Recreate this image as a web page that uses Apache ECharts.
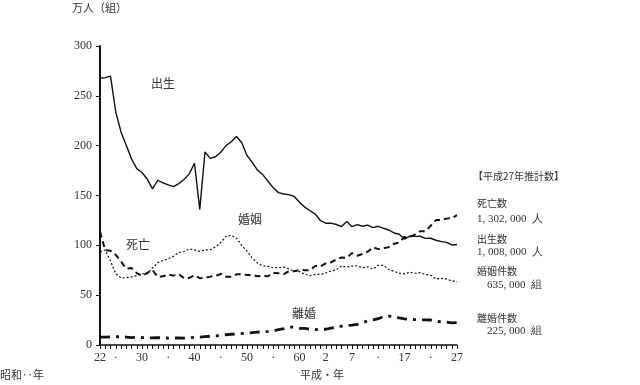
<!DOCTYPE html>
<html><head><meta charset="utf-8">
<script src="https://cdn.jsdelivr.net/npm/echarts@6/dist/echarts.min.js"></script>
<style>html,body{margin:0;padding:0;background:#fff}#c{width:640px;height:385px}</style>
</head><body><div id="c"></div>
<script>
var years = ["1947","1948","1949","1950","1951","1952","1953","1954","1955","1956","1957","1958","1959","1960","1961","1962","1963","1964","1965","1966","1967","1968","1969","1970","1971","1972","1973","1974","1975","1976","1977","1978","1979","1980","1981","1982","1983","1984","1985","1986","1987","1988","1989","1990","1991","1992","1993","1994","1995","1996","1997","1998","1999","2000","2001","2002","2003","2004","2005","2006","2007","2008","2009","2010","2011","2012","2013","2014","2015"];
var tickLabels = {"1947":"22","1950":"·","1955":"30","1960":"·","1965":"40","1970":"·","1975":"50","1980":"·","1985":"60","1990":"2","1995":"7","2000":"·","2005":"17","2010":"·","2015":"27"};
var births = [267.9,268.2,269.7,233.8,213.8,200.5,186.8,177.0,173.1,166.5,156.7,165.3,162.6,160.6,158.9,161.9,166.0,171.7,182.4,136.1,193.6,187.2,188.9,193.4,200.1,203.9,209.2,203.0,190.1,183.3,175.5,170.9,164.3,157.7,152.9,151.5,150.9,149.0,143.2,138.3,134.7,131.4,124.7,122.2,122.3,120.9,118.8,123.8,118.7,120.7,119.2,120.3,117.8,119.1,117.1,115.4,112.4,111.1,106.3,109.3,109.0,109.1,107.0,107.1,105.1,103.7,103.0,100.4,100.8];
var deaths = [113.8,95.0,94.5,90.5,83.9,76.5,77.3,72.1,69.4,72.4,75.2,68.4,68.9,70.7,69.6,71.0,67.1,67.3,70.0,67.0,67.5,68.6,69.4,71.3,68.5,68.4,70.9,71.1,70.2,70.3,69.0,69.6,69.0,72.3,72.0,71.2,74.0,74.0,75.2,75.1,75.1,79.3,78.9,82.0,83.0,85.7,87.8,87.6,92.2,89.6,91.3,93.6,98.2,96.2,97.0,98.2,101.5,102.9,108.4,108.4,110.8,114.2,114.2,119.7,125.3,125.6,126.8,127.3,130.2];
var marriages = [93.4,95.3,84.2,71.5,67.2,67.6,68.3,69.7,71.5,71.5,77.3,82.6,84.8,86.6,89.0,92.8,93.8,96.3,95.5,94.0,95.3,95.6,98.4,102.9,109.2,110.0,107.2,100.0,94.2,87.1,82.1,79.3,78.9,77.5,77.7,78.1,76.3,74.0,73.6,71.0,69.6,70.8,70.8,72.2,74.2,75.4,79.3,78.2,79.2,79.5,77.5,78.5,76.2,79.8,80.0,75.7,74.0,72.0,71.4,73.1,72.0,72.6,70.8,70.0,66.2,66.9,66.1,64.4,63.5];
var divorces = [7.9,7.9,8.2,8.4,8.2,8.0,7.5,7.6,7.5,7.2,7.1,7.3,7.2,6.9,7.0,7.1,6.9,7.3,7.7,7.9,8.4,8.8,9.1,9.6,10.3,10.8,11.1,11.4,11.9,12.4,12.9,13.2,13.6,14.2,15.4,16.4,17.9,17.9,16.7,16.6,15.8,15.4,15.8,15.8,16.9,17.9,18.9,19.5,19.9,20.7,22.3,24.3,25.1,26.4,28.6,29.0,28.4,27.1,26.2,25.7,25.5,25.1,25.3,25.1,23.6,23.5,23.1,22.2,22.5];

var jp = '"Noto Sans CJK JP", sans-serif';
var serif = '"Liberation Serif", "DejaVu Serif", serif';
var txt = '#333';

var chart = echarts.init(document.getElementById('c'));
function label(x, y, s, size) {
  return {type:'text', left:x, top:y, style:{text:s, fill:txt, font:(size||11)+'px '+jp}};
}
function num(x, y, s) {
  return {type:'text', left:x, top:y, style:{text:s, fill:txt, font:'11px '+serif}};
}
chart.setOption({
  animation:false,
  grid:{left:100, right:183, top:46, bottom:40, containLabel:false},
  xAxis:{type:'category', data:years, boundaryGap:false,
    axisLine:{lineStyle:{color:'#111', width:1.5}},
    axisTick:{show:true, interval:0, length:4, lineStyle:{color:'#111', width:1}},
    axisLabel:{interval:0, margin:7, color:txt, fontFamily:serif, fontSize:12,
      formatter:function(v){ return tickLabels[v] || ''; }},
    splitLine:{show:false}},
  yAxis:{type:'value', min:0, max:300, interval:50,
    axisLine:{show:true, lineStyle:{color:'#111', width:2}},
    axisTick:{show:true, length:4, lineStyle:{color:'#111'}},
    axisLabel:{color:txt, fontFamily:serif, fontSize:12, margin:8},
    splitLine:{show:false}},
  series:[
    {name:'出生', type:'line', data:births, symbol:'none', lineStyle:{color:'#111', width:1.4, type:'solid'}},
    {name:'死亡', type:'line', data:deaths, symbol:'none', lineStyle:{color:'#111', width:2, type:[6,4]}},
    {name:'婚姻', type:'line', data:marriages, symbol:'none', lineStyle:{color:'#111', width:1.2, type:[2,2]}},
    {name:'離婚', type:'line', data:divorces, symbol:'none', lineStyle:{color:'#111', width:2.8, type:[10,6,3,6]}}
  ],
  graphic:[
    label(72, 2, '万人（組）', 11),
    label(151, 77, '出生', 12),
    label(126, 238, '死亡', 12),
    label(238, 213, '婚姻', 12),
    label(292, 307, '離婚', 12),
    label(0, 369, '昭和‥年', 11),
    label(300, 369, '平成・年', 11),
    label(473, 171, '【平成27年推計数】', 10),
    label(477, 198, '死亡数', 10),
    num(477, 214, '1, 302, 000  人'),
    label(477, 234, '出生数', 10),
    num(477, 247, '1, 008, 000  人'),
    label(477, 266, '婚姻件数', 10),
    num(487, 280, '635, 000  組'),
    label(477, 313, '離婚件数', 10),
    num(487, 326, '225, 000  組')
  ]
});
</script></body></html>
